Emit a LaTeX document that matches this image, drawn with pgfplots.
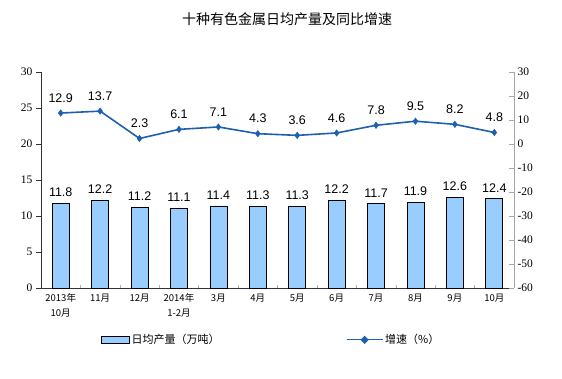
\documentclass[border=0pt]{standalone}
\usepackage{fontspec}
\setmainfont{Liberation Sans}
\newfontfamily\cjk{Noto Sans CJK SC}
\newfontfamily\serifnum{Liberation Serif}
\usepackage{pgfplots}
\pgfplotsset{compat=1.18}
\definecolor{barblue}{HTML}{99CCFF}
\definecolor{lineblue}{HTML}{1F5FB0}
\begin{document}
\begin{tikzpicture}
\path[use as bounding box] (0pt,0pt) rectangle (562pt,378pt);
\node[font=\cjk\fontsize{14}{16}\selectfont] at (287pt,359pt) {十种有色金属日均产量及同比增速};
\begin{axis}[at={(41pt,90pt)}, anchor=south west, scale only axis,
  width=473pt, height=216pt,
  xmin=-0.5, xmax=11.5, ymin=0, ymax=30,
  ytick={0,5,...,30},
  axis y line*=left, axis x line*=bottom,
  axis line style={black!80, line width=0.6pt},
  xtick={0,...,11},
  xticklabels={{2013年\\10月},11月,12月,{2014年\\1-2月},3月,4月,5月,6月,7月,8月,9月,10月},
  x tick label style={font=\cjk\fontsize{9.5}{15}\selectfont, align=center, anchor=north, yshift=-2pt},
  major x tick style={draw=none},
  minor xtick={-0.5,0.5,...,11.5},
  minor x tick style={gray!60, line width=0.5pt},
  minor tick length=3pt,
  minor tick align/.style={},
  y tick label style={font=\serifnum\fontsize{11.5}{13}\selectfont},
  /pgf/number format/assume math mode=true,
  ytick style={black!80, line width=0.5pt},
  major tick length=5pt,
  ytick align=outside,
  xtick align=inside,
  legend style={at={(0.12,-0.24)}, anchor=west, draw=none, fill=none,
    font=\cjk\fontsize{11}{12}\selectfont},
  legend cell align=left,
]
\addplot[ybar, bar width=17pt, fill=barblue, draw=black, line width=0.6pt,
  nodes near coords, nodes near coords style={font=\fontsize{12.5}{14}\selectfont, black, yshift=3pt},
  point meta=explicit symbolic,
  legend image code/.code={\draw[fill=barblue, draw=black, line width=0.6pt] (0pt,-3.5pt) rectangle (28pt,3.5pt);}]
coordinates {(0,11.8)[11.8] (1,12.2)[12.2] (2,11.2)[11.2] (3,11.1)[11.1] (4,11.4)[11.4] (5,11.3)[11.3]
 (6,11.3)[11.3] (7,12.2)[12.2] (8,11.7)[11.7] (9,11.9)[11.9] (10,12.6)[12.6] (11,12.4)[12.4]};
\addlegendentry{日均产量（万吨）}
\end{axis}
\begin{axis}[at={(41pt,90pt)}, anchor=south west, scale only axis,
  width=473pt, height=216pt,
  xmin=-0.5, xmax=11.5, ymin=-60, ymax=30,
  ytick={-60,-50,...,30},
  axis y line*=right, axis x line=none,
  axis line style={gray!70, line width=0.6pt},
  y tick label style={font=\serifnum\fontsize{11.5}{13}\selectfont},
  /pgf/number format/assume math mode=true,
  ytick style={gray!70, line width=0.5pt},
  major tick length=5pt,
  tick align=inside,
  legend style={at={(0.638,-0.24)}, anchor=west, draw=none, fill=none,
    font=\cjk\fontsize{11}{12}\selectfont},
  legend cell align=left,
]
\addplot[lineblue, line width=1.6pt, mark=diamond*, mark size=3.2pt,
  mark options={fill=lineblue, draw=lineblue, line width=0.5pt},
  nodes near coords, nodes near coords style={font=\fontsize{12.5}{14}\selectfont, black, yshift=7pt},
  point meta=explicit symbolic,
  legend image code/.code={\draw[lineblue, line width=1.2pt] (0pt,0pt) -- (36pt,0pt); \fill[lineblue] (18pt,0pt) +(0,3pt) -- +(3pt,0) -- +(0,-3pt) -- +(-3pt,0) -- cycle;}]
coordinates {(0,12.9)[12.9] (1,13.7)[13.7] (2,2.3)[2.3] (3,6.1)[6.1] (4,7.1)[7.1] (5,4.3)[4.3]
 (6,3.6)[3.6] (7,4.6)[4.6] (8,7.8)[7.8] (9,9.5)[9.5] (10,8.2)[8.2] (11,4.8)[4.8]};
\addlegendentry{增速（\%）}
\end{axis}
\end{tikzpicture}
\end{document}
